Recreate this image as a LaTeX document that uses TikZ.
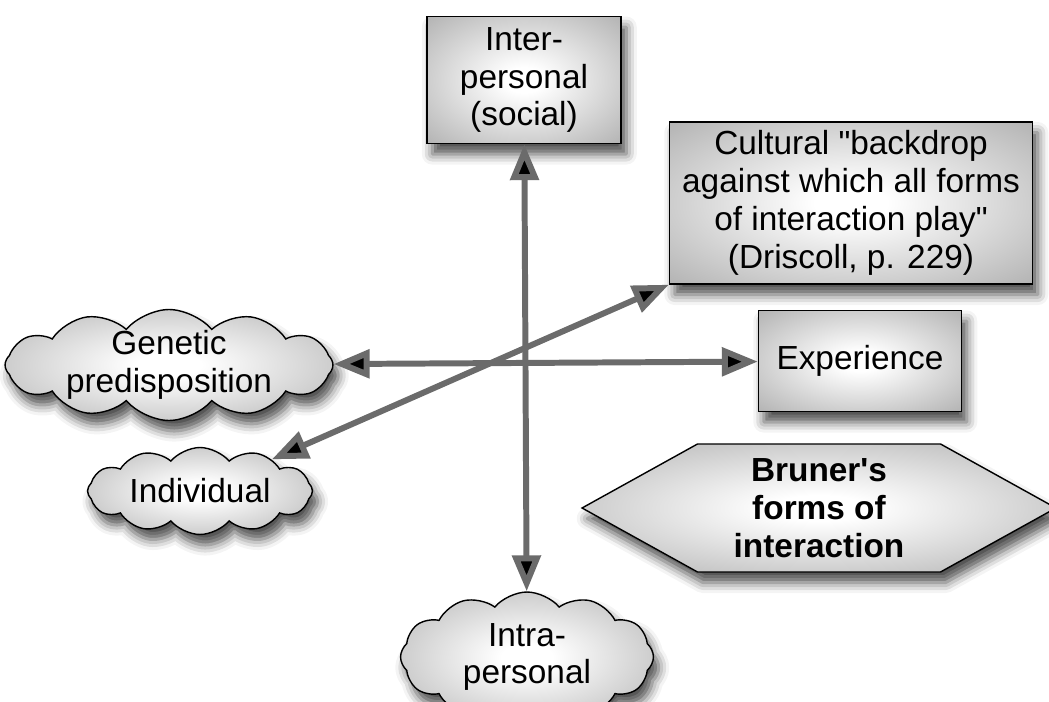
\documentclass[tikz,border=0pt]{standalone}
\usepackage{fontspec}
\setmainfont{Liberation Sans}
\usetikzlibrary{arrows.meta,positioning,shapes.symbols,shadows.blur}

\pgfdeclareradialshading{glow}{\pgfpoint{0cm}{0cm}}{color(0bp)=(white); color(5bp)=(white); color(50bp)=(black!44)}

\begin{document}
\begin{tikzpicture}[x=0.02cm, y=-0.02cm,
    box/.style={draw, line width=0.8pt, shading=glow,
      blur shadow={shadow xshift=3pt, shadow yshift=-6pt, shadow blur radius=6pt, shadow opacity=70},
      align=center, font=\fontsize{19}{21.5}\selectfont},
    puff/.style={box, cloud, cloud puffs=12, cloud puff arc=100, cloud ignores aspect, inner xsep=0pt},
    link/.style={<->, >={Triangle[length=0.72cm, width=0.56cm]}, line width=3.4pt, draw=black!58}]
  \useasboundingbox (0,0) rectangle (1049,702);
  \clip (0,0) rectangle (1049,702);
  % boxes
  \node[box, minimum width=3.88cm, minimum height=2.54cm] (inter) at (524,80) {Inter-\\personal\\(social)};
  \node[box, minimum width=7.26cm, minimum height=3.24cm] (culture) at (851,203)
    {Cultural \textquotedbl backdrop\\against which all forms\\of interaction play\textquotedbl\\(Driscoll, p. 229)};
  \node[box, minimum width=4.06cm, minimum height=2.02cm] (experience) at (860,361) {Experience};
  \node[box, signal, signal from=nowhere, signal to=west and east, signal pointer angle=58,
    minimum width=9.48cm, minimum height=2.56cm, font=\bfseries\fontsize{19}{21.5}\selectfont]
    (bruner) at (819,508) {Bruner\textquotesingle s\\forms of\\interaction};
  % clouds
  \node[puff, inner ysep=-12pt, minimum width=6.56cm, minimum height=2.22cm] (genetic) at (169,365) {Genetic\\predisposition};
  \node[puff, inner ysep=0pt, minimum width=4.5cm, minimum height=1.74cm] (individual) at (200,491) {Individual};
  \node[puff, inner ysep=-12pt, minimum width=5.06cm, minimum height=2.6cm] (intra) at (527,657) {Intra-\\personal};
  % arrows
  \path[link]
    (inter) edge (intra)
    (genetic) edge (experience)
    (individual) edge (culture.south west);
\end{tikzpicture}
\end{document}
